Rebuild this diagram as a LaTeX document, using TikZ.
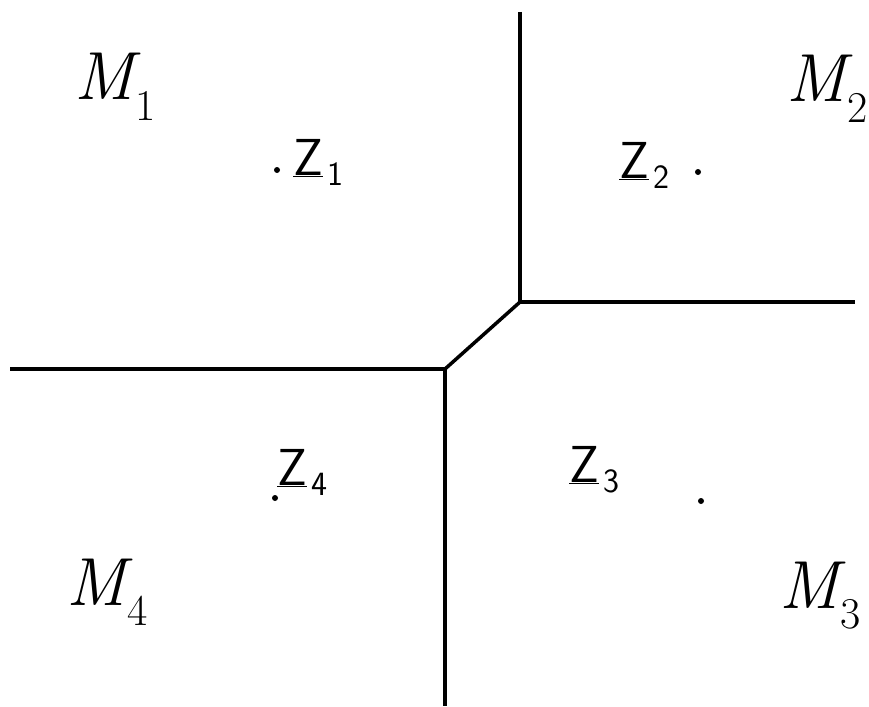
\documentclass[tikz,border=0pt]{standalone}
\usepackage{fontspec}
\usetikzlibrary{positioning}

\tikzset{
  border/.style={line width=3.5pt, line join=round},
  region/.style={anchor=base west, inner sep=0pt, font=\fontsize{68}{72}\selectfont\itshape},
  centre/.style={anchor=base west, inner sep=0pt, font=\fontsize{52}{56}\selectfont\sffamily},
  site/.style={circle, fill, inner sep=0pt, minimum size=6pt},
}
\newcommand{\mreg}[1]{M\kern0.02em\raisebox{-0.3em}{\fontsize{44}{46}\selectfont\upshape #1}}
\newcommand{\zsite}[1]{\underline{Z}\kern0.08em\raisebox{-0.2em}{\fontsize{34}{36}\selectfont #1}}

\begin{document}
\begin{tikzpicture}[x=1pt,y=-1pt]
    \useasboundingbox (0,0) rectangle (869,706);

    % Grenzen
    \coordinate (top) at (520,12);
    \coordinate (ju) at (520,302);
    \coordinate (right) at (855,302);
    \coordinate (jl) at (445,369);
    \coordinate (left) at (10,369);
    \coordinate (bottom) at (445,706);
    \draw[border] (top) -- (ju) -- (right);
    \draw[border] (ju) -- (jl);
    \draw[border] (left) -- (jl) -- (bottom);

    % Gebiete
    \node[region] (m1) at (74,100) {\mreg{1}};
    \node[region] (m2) at (786,102) {\mreg{2}};
    \node[region] (m3) at (779,608) {\mreg{3}};
    \node[region] (m4) at (66,605) {\mreg{4}};

    % Zentren
    \node[site] (p1) at (277,170) {};
    \node[site] (p2) at (698,172) {};
    \node[site] (p3) at (701,501) {};
    \node[site] (p4) at (275,498) {};
    \node[centre] (z1) at (293,175) {\zsite{1}};
    \node[centre] (z2) at (619,178) {\zsite{2}};
    \node[centre] (z3) at (569,482) {\zsite{3}};
    \node[centre] (z4) at (277,485) {\zsite{4}};
\end{tikzpicture}
\end{document}
